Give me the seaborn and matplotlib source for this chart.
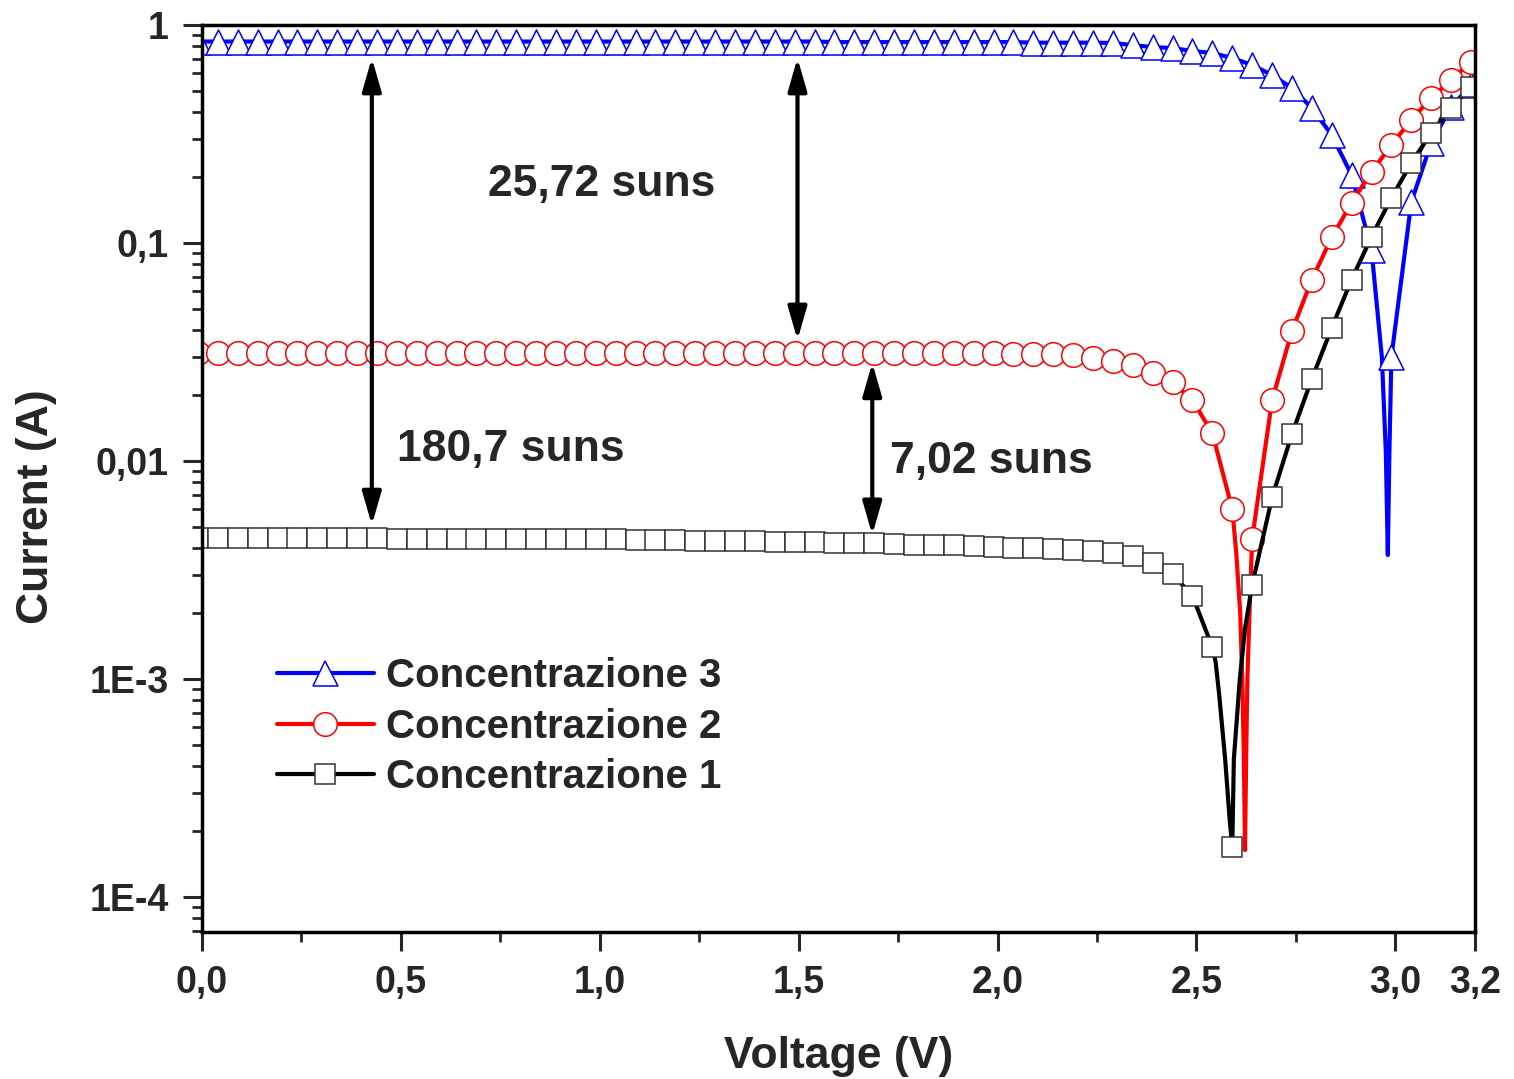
import numpy as np
import pandas as pd
import matplotlib
matplotlib.use('Agg')
import matplotlib.pyplot as plt
import seaborn as sns
from matplotlib.lines import Line2D
from matplotlib.ticker import FixedLocator, NullFormatter, LogLocator

# Marker points (every 0.05 V)
voltage = [-0.01, 0.04, 0.09, 0.14, 0.19, 0.24, 0.29, 0.34, 0.39, 0.44,
           0.49, 0.54, 0.59, 0.64, 0.69, 0.74, 0.79, 0.84, 0.89, 0.94,
           0.99, 1.04, 1.09, 1.14, 1.19, 1.24, 1.29, 1.34, 1.39, 1.44,
           1.49, 1.54, 1.59, 1.64, 1.69, 1.74, 1.79, 1.84, 1.89, 1.94,
           1.99, 2.04, 2.09, 2.14, 2.19, 2.24, 2.29, 2.34, 2.39, 2.44,
           2.49, 2.54, 2.59, 2.64, 2.69, 2.74, 2.79, 2.84, 2.89, 2.94,
           2.99, 3.04, 3.09, 3.14, 3.19]

i_conc3 = [0.84, 0.84, 0.84, 0.84, 0.84, 0.84, 0.84, 0.84, 0.84, 0.84,
           0.84, 0.84, 0.84, 0.84, 0.84, 0.84, 0.84, 0.84, 0.84, 0.84,
           0.84, 0.84, 0.84, 0.84, 0.84, 0.84, 0.84, 0.84, 0.84, 0.84,
           0.84, 0.84, 0.835, 0.835, 0.835, 0.835, 0.835, 0.835, 0.835, 0.835,
           0.835, 0.835, 0.83, 0.83, 0.83, 0.83, 0.827, 0.809, 0.792, 0.784,
           0.760, 0.744, 0.706, 0.655, 0.590, 0.514, 0.416, 0.313, 0.205, 0.093,
           0.030, 0.154, 0.288, 0.42, 0.53]

i_conc2 = [0.0313, 0.0313, 0.0313, 0.0313, 0.0313, 0.0313, 0.0313, 0.0313, 0.0313, 0.0313,
           0.0313, 0.0313, 0.0313, 0.0313, 0.0313, 0.0313, 0.0313, 0.0313, 0.0313, 0.0313,
           0.0313, 0.0313, 0.0313, 0.0313, 0.0313, 0.0313, 0.0313, 0.0313, 0.0313, 0.0313,
           0.0313, 0.0313, 0.0313, 0.0313, 0.0313, 0.0313, 0.0313, 0.0313, 0.0313, 0.0313,
           0.0313, 0.031, 0.031, 0.0308, 0.0305, 0.0297, 0.0288, 0.0276, 0.0253, 0.0230,
           0.0190, 0.0134, 0.0060, 0.0044, 0.019, 0.0395, 0.068, 0.106, 0.153, 0.212,
           0.282, 0.367, 0.463, 0.56, 0.677]

i_conc1 = [0.00445, 0.00445, 0.00445, 0.00445, 0.00445, 0.00445, 0.00445, 0.00445, 0.00445, 0.00445,
           0.0044, 0.0044, 0.0044, 0.0044, 0.0044, 0.0044, 0.0044, 0.0044, 0.0044, 0.0044,
           0.00437, 0.00437, 0.00435, 0.00435, 0.00433, 0.0043, 0.0043, 0.0043, 0.00428, 0.00425,
           0.00425, 0.00423, 0.0042, 0.0042, 0.0042, 0.00415, 0.00412, 0.0041, 0.0041, 0.00407,
           0.00405, 0.0040, 0.0040, 0.00395, 0.0039, 0.00387, 0.0038, 0.00367, 0.0034, 0.00303,
           0.0024, 0.0014, 0.00017, 0.0027, 0.0068, 0.0133, 0.0238, 0.0408, 0.068, 0.107,
           0.161, 0.233, 0.32, 0.416, 0.52]

# extra curve points around the zero-crossing dips (line only, no markers)
dip3_v = [2.966, 2.976, 2.981, 2.985]
dip3_i = [0.030, 0.011, 0.0037, 0.011]
dip2_v = [2.600, 2.610, 2.615, 2.619, 2.622, 2.625, 2.628, 2.634]
dip2_i = [0.0038, 0.0020, 0.0010, 0.00045, 0.000164, 0.00045, 0.0010, 0.0022]
dip1_v = [2.548, 2.557, 2.572, 2.584, 2.594, 2.609, 2.622]
dip1_i = [0.0012, 0.00085, 0.00043, 0.00022, 0.00043, 0.0010, 0.0017]

labels = ['Concentrazione 3', 'Concentrazione 2', 'Concentrazione 1']

sns.set_style('ticks')
plt.rcParams['font.family'] = ['Liberation Sans', 'DejaVu Sans']
plt.rcParams['font.weight'] = 'bold'
plt.rcParams['axes.labelweight'] = 'bold'

fig = plt.figure(figsize=(15.14, 10.79), dpi=100)
ax = fig.add_axes([0.1334, 0.1362, 0.8408, 0.8406])
ax.set_yscale('log')

series = [
    (labels[0], i_conc3, dip3_v, dip3_i, '#0000ff', '#0000ff', '^', 18),
    (labels[1], i_conc2, dip2_v, dip2_i, '#ff0000', '#ff0000', 'o', 17),
    (labels[2], i_conc1, dip1_v, dip1_i, '#000000', '#333333', 's', 15),
]

handles = []
for n, (name, cur, dv, di, col, ec, mk, ms) in enumerate(series):
    line_df = pd.DataFrame({'V': voltage + dv, 'I': cur + di}).sort_values('V')
    sns.lineplot(data=line_df, x='V', y='I', color=col, linewidth=3,
                 estimator=None, ax=ax, zorder=2 + n * 0.2)
    sns.scatterplot(x=voltage, y=cur, marker=mk, s=ms ** 2, color='white',
                    edgecolor=ec, linewidth=1.1, ax=ax, zorder=2.1 + n * 0.2)
    handles.append(Line2D([], [], color=col, lw=3, marker=mk, ms=ms,
                          mfc='white', mec=ec, mew=1.1))

# arrows and annotations
arrow = dict(arrowstyle='<|-|>,head_length=0.8,head_width=0.23', color='black',
             lw=3, mutation_scale=25, shrinkA=0, shrinkB=0)
ax.annotate('', xy=(0.427, 0.00508), xytext=(0.427, 0.706), arrowprops=arrow)
ax.annotate('', xy=(1.497, 0.0359), xytext=(1.497, 0.706), arrowprops=arrow)
ax.annotate('', xy=(1.685, 0.00458), xytext=(1.685, 0.0282), arrowprops=arrow)
ax.text(0.719, 0.185, '25,72 suns', fontsize=32, fontweight='bold', va='center', ha='left')
ax.text(0.490, 0.0113, '180,7 suns', fontsize=32, fontweight='bold', va='center', ha='left')
ax.text(1.730, 0.0099, '7,02 suns', fontsize=32, fontweight='bold', va='center', ha='left')

ax.set_xlim(0, 3.2)
ax.set_ylim(6.9e-5, 1.0)
ax.set_xticks([0, 0.5, 1.0, 1.5, 2.0, 2.5, 3.0, 3.2])
ax.set_xticklabels(['0,0', '0,5', '1,0', '1,5', '2,0', '2,5', '3,0', '3,2'])
ax.xaxis.set_minor_locator(FixedLocator([0.25, 0.75, 1.25, 1.75, 2.25, 2.75]))
ax.set_yticks([1e-4, 1e-3, 1e-2, 1e-1, 1])
ax.set_yticklabels(['1E-4', '1E-3', '0,01', '0,1', '1'])
ax.yaxis.set_minor_locator(LogLocator(base=10, subs=range(2, 10)))
ax.yaxis.set_minor_formatter(NullFormatter())

ax.tick_params(which='major', length=14, width=2.2, labelsize=27, pad=10,
               direction='out', top=False, right=False)
ax.tick_params(which='minor', length=7, width=2.0, direction='out', top=False, right=False)
for s in ax.spines.values():
    s.set_linewidth(2.5)
    s.set_color('black')

ax.set_xlabel('Voltage (V)', fontsize=32, fontweight='bold')
ax.set_ylabel('Current (A)', fontsize=32, fontweight='bold')
ax.xaxis.set_label_coords(0.5, -0.115)
ax.yaxis.set_label_coords(-0.114, 0.4686)

ax.legend(handles, labels, loc='upper left', bbox_to_anchor=(0.059, 0.303),
          frameon=False, prop={'weight': 'bold', 'size': 29}, handlelength=2.4,
          handletextpad=0.3, labelspacing=0.31, borderpad=0, borderaxespad=0)

plt.savefig('out.png', dpi=100)
plt.close()
